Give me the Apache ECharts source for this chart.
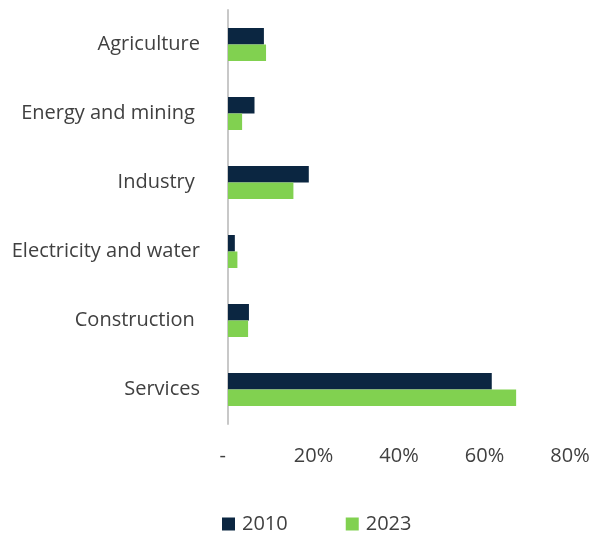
<!DOCTYPE html>
<html>
<head>
<meta charset="utf-8">
<script src="https://cdn.jsdelivr.net/npm/echarts@6/dist/echarts.min.js"></script>
<style>
  html, body { margin: 0; padding: 0; background: #ffffff; }
  #chart { width: 594px; height: 536px; }
</style>
</head>
<body>
<div id="chart"></div>
<script>
// Sectors, top to bottom
const categories = ['Agriculture', 'Energy and mining ', 'Industry ', 'Electricity and water', 'Construction ', 'Services'];
// Share by sector (%)
const values2010 = [8.4, 6.2, 18.9, 1.6, 4.9, 61.7];
const values2023 = [8.9, 3.3, 15.3, 2.2, 4.7, 67.4];
const seriesNames = ['2010', '2023'];
const xTicks = [0, 20, 40, 60, 80];

const FONT = '"Open Sans", "Noto Sans", sans-serif';
const NAVY = '#0b2641';
const GREEN = '#81d150';

const chart = echarts.init(document.getElementById('chart'), null, { renderer: 'canvas' });

chart.setOption({
  animation: false,
  backgroundColor: '#ffffff',
  textStyle: { fontFamily: FONT },
  grid: { left: 228, right: 24, top: 10, bottom: 112, containLabel: false },
  xAxis: {
    type: 'value',
    min: xTicks[0],
    max: xTicks[xTicks.length - 1],
    interval: xTicks[1] - xTicks[0],
    axisLine: { show: false },
    axisTick: { show: false },
    splitLine: { show: false },
    axisLabel: {
      margin: 22,
      fontSize: 20,
      color: '#404040',
      fontFamily: FONT,
      formatter: v => (v === 0 ? '-  ' : v + '%')
    }
  },
  yAxis: {
    type: 'category',
    inverse: true,
    data: categories,
    axisLine: { show: true, lineStyle: { color: '#c8c8c8', width: 2 } },
    axisTick: { show: false },
    axisLabel: {
      margin: 28,
      fontSize: 20,
      color: '#404040',
      fontFamily: FONT
    }
  },
  legend: {
    left: 222,
    top: 514,
    padding: 0,
    itemWidth: 13,
    itemHeight: 13,
    itemGap: 58,
    icon: 'rect',
    textStyle: { fontSize: 20, color: '#404040', fontFamily: FONT, padding: [0, 0, 0, 2] },
    data: seriesNames
  },
  series: [
    {
      name: seriesNames[0],
      type: 'bar',
      data: values2010,
      barWidth: 16.5,
      barGap: '0%',
      itemStyle: { color: NAVY }
    },
    {
      name: seriesNames[1],
      type: 'bar',
      data: values2023,
      barWidth: 16.5,
      barGap: '0%',
      itemStyle: { color: GREEN }
    }
  ]
});
</script>
</body>
</html>
